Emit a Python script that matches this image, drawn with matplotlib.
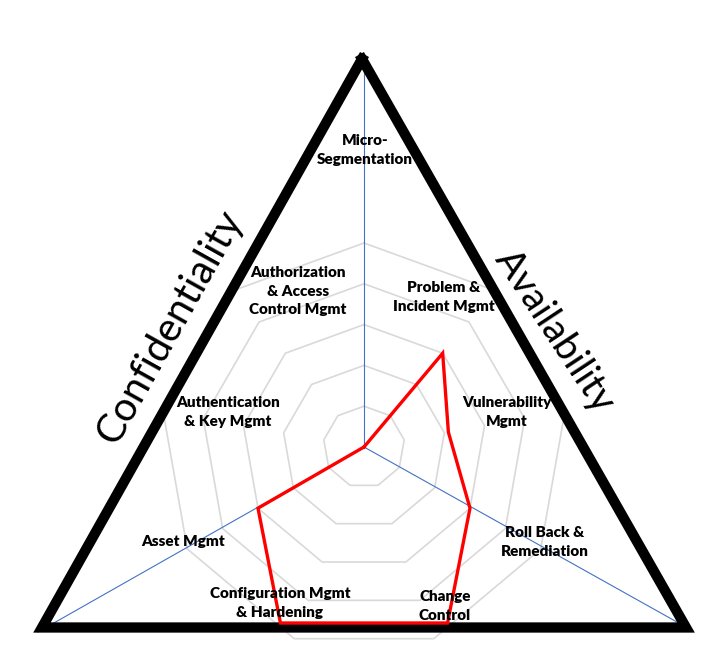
import matplotlib.pyplot as plt
import numpy as np

# radar categories, clockwise from the top
categories = ['Micro-\nSegmentation', 'Problem &\nIncident Mgmt', 'Vulnerability\nMgmt',
              'Roll Back &\nRemediation', 'Change\nControl', 'Configuration Mgmt\n& Hardening',
              'Asset Mgmt', 'Authentication\n& Key Mgmt', 'Authorization\n& Access\nControl Mgmt']
scores = [0, 3, 2.1, 3, 5.5, 5.5, 3, 0, 0]
rings = [1, 2, 3, 4, 5]
sides = ['Confidentiality', 'Availability']

W, H = 725, 656
cx, cy, unit = 364, 447, 40.8   # pixel position of the radar centre, pixels per score unit


def px(x, y):
    # picture pixel -> data coords
    return (x - cx) / unit, (cy - y) / unit


fig = plt.figure(figsize=(W / 100, H / 100), dpi=100)
ax = fig.add_axes([0, 0, 1, 1])
ax.set_xlim(px(0, 0)[0], px(W, 0)[0])
ax.set_ylim(px(0, H)[1], px(0, 0)[1])
ax.axis('off')

n = len(categories)
theta = np.arange(n) * 2 * np.pi / n

# grid rings
for r in rings:
    t = np.append(theta, theta[0])
    ax.plot(r * np.sin(t), r * np.cos(t), color='#D9D9D9', lw=1.2, zorder=1)

# score polygon, clipped at the bottom edge of the frame
vals = np.array(scores)
pts = list(zip(vals * np.sin(theta), vals * np.cos(theta)))
ymin = px(0, 623)[1]
clipped = []
for i in range(n):
    p, q = pts[i], pts[(i + 1) % n]
    if p[1] >= ymin:
        clipped.append(p)
    if (p[1] >= ymin) != (q[1] >= ymin):
        f = (ymin - p[1]) / (q[1] - p[1])
        clipped.append((p[0] + f * (q[0] - p[0]), ymin))
clipped.append(clipped[0])
clipped = np.array(clipped)
ax.plot(clipped[:, 0], clipped[:, 1], color='#FF0000', lw=2.4, zorder=4,
        solid_joinstyle='miter')

# triangle frame
tri = np.array([px(362, 59), px(686, 627.5), px(42, 627.5), px(362, 59)])
ax.plot(tri[:, 0], tri[:, 1], color='black', lw=7.4, zorder=3, solid_joinstyle='miter')

# blue lines centre -> corners
for corner in [px(364, 68), px(693, 631), px(38, 632)]:
    ax.plot([0, corner[0]], [0, corner[1]], color='#4472C4', lw=0.8, zorder=2.5)

# category labels
label_pos = [(365, 150), (444, 297), (507, 412), (545, 542), (445, 606),
             (280, 603), (183, 542), (228, 412), (298, 291)]
for lab, (x, y) in zip(categories, label_pos):
    ax.text(*px(x, y), lab, ha='center', va='center', fontsize=11, fontweight='heavy',
            family='Lato', linespacing=1.5, zorder=6)

ax.text(*px(170, 327), sides[0], ha='center', va='center', fontsize=29, family='Lato',
        rotation=60.8, rotation_mode='anchor')
ax.text(*px(555, 331), sides[1], ha='center', va='center', fontsize=28, family='Lato',
        rotation=-56.5, rotation_mode='anchor')

fig.savefig('out.png', dpi=100)
